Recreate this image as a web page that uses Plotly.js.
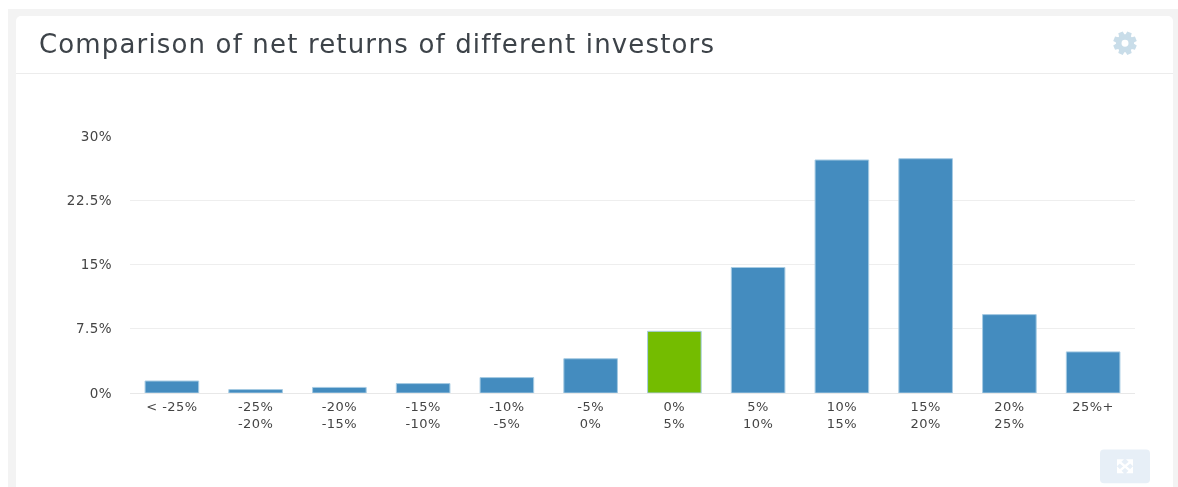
<!DOCTYPE html>
<html><head><meta charset="utf-8">
<script src="https://cdn.plot.ly/plotly-3.0.1.min.js"></script>
<style>
html,body{margin:0;padding:0;background:#fff;width:1178px;height:487px;overflow:hidden}
#panel{position:absolute;left:8px;top:9px;width:1172px;height:478px;background:#f3f3f3}
#card{position:absolute;left:16px;top:16px;width:1157px;height:471px;background:#fff;border-radius:5px 5px 0 0}
#rule{position:absolute;left:16px;top:73px;width:1157px;height:1px;background:#ececec}
#chart{position:absolute;left:0;top:0;width:1178px;height:487px;filter:blur(0.4px)}
#chart .gtitle{letter-spacing:1.15px}
#chart .xtick text,#chart .ytick text{letter-spacing:0.45px}
</style></head><body>
<div id="panel"></div><div id="card"></div><div id="rule"></div>
<div id="chart"></div>
<script>
const categories = ["< -25%","-25%<br>-20%","-20%<br>-15%","-15%<br>-10%","-10%<br>-5%","-5%<br>0%","0%<br>5%","5%<br>10%","10%<br>15%","15%<br>20%","20%<br>25%","25%+"];
const netReturns = [1.4,0.4,0.65,1.1,1.8,4.0,7.2,14.65,27.2,27.35,9.15,4.8];
const barColors = ["#448cbf","#448cbf","#448cbf","#448cbf","#448cbf","#448cbf","#74bc00","#448cbf","#448cbf","#448cbf","#448cbf","#448cbf"];
const yTicks = [0,7.5,15,22.5,30];
const yTickLabels = ["0%","7.5%","15%","22.5%","30%"];
const W=1178,H=487,L=130,R=1135,T=136,B=393.5;
const px=x=>(x-L)/(R-L), py=y=>(B-y)/(B-T);
const pt=(x,y)=>`${px(x)} ${py(y)}`;
// settings-cog outline, in page pixels
const gearPts=[];
for(let i=0;i<8;i++){
  const a=i*Math.PI/4+Math.PI/8;
  [[-0.32,9],[-0.2,12],[0.2,12],[0.32,9]].forEach(([d,r])=>gearPts.push(pt(1125+r*Math.cos(a+d),43+r*Math.sin(a+d))));
}
const gearPath='M '+gearPts.join(' L ')+' Z';
const tri=(x,y,sx,sy)=>({type:'path',xref:'paper',yref:'paper',line:{width:0},fillcolor:'#fff',
  path:`M ${pt(x,y)} L ${pt(x+sx*7,y)} L ${pt(x,y+sy*7)} Z`});
Plotly.newPlot('chart',[{
  type:'bar',x:categories,y:netReturns,width:0.64,
  marker:{color:barColors,line:{color:'#a6cbe3',width:1}},
  hoverinfo:'x+y'
}],{
  width:W,height:H,
  margin:{l:L,r:W-R,t:T,b:H-B,pad:0},
  paper_bgcolor:'rgba(0,0,0,0)',plot_bgcolor:'rgba(0,0,0,0)',
  showlegend:false,
  title:{text:'Comparison of net returns of different investors',x:39/W,xanchor:'left',y:1-44/H,yanchor:'middle',
    font:{family:'"DejaVu Sans"',size:26,color:'#3d4349'}},
  xaxis:{type:'category',categoryorder:'array',categoryarray:categories,range:[-0.5,11.5],
    showgrid:false,zeroline:false,showline:false,ticks:'',automargin:false,tickangle:0,ticklabelstandoff:4,
    tickfont:{family:'"DejaVu Sans"',size:13,color:'#444'}},
  yaxis:{range:[0,30],tickmode:'array',tickvals:yTicks,ticktext:yTickLabels,
    gridcolor:'#eeeeee',gridwidth:1,zeroline:true,zerolinecolor:'#e8e8e8',zerolinewidth:1,showline:false,ticks:'',automargin:false,
    ticklabelstandoff:17,
    tickfont:{family:'"DejaVu Sans"',size:13.5,color:'#444'}},
  shapes:[
    {type:'path',xref:'paper',yref:'paper',layer:'below',line:{width:0},fillcolor:'#e7eff7',
     path:`M ${pt(1104,450)} L ${pt(1146,450)} Q ${pt(1150,450)} ${pt(1150,454)} L ${pt(1150,480)} Q ${pt(1150,484)} ${pt(1146,484)} L ${pt(1104,484)} Q ${pt(1100,484)} ${pt(1100,480)} L ${pt(1100,454)} Q ${pt(1100,450)} ${pt(1104,450)} Z`},
    {type:'line',xref:'paper',yref:'paper',x0:px(1119),y0:py(462),x1:px(1131),y1:py(472),line:{color:'#fff',width:2.5}},
    {type:'line',xref:'paper',yref:'paper',x0:px(1119),y0:py(472),x1:px(1131),y1:py(462),line:{color:'#fff',width:2.5}},
    tri(1117,460,1,1),tri(1133,460,-1,1),tri(1117,474,1,-1),tri(1133,474,-1,-1),
    {type:'path',xref:'paper',yref:'paper',line:{width:0},fillcolor:'#c9dde9',path:gearPath},
    {type:'circle',xref:'paper',yref:'paper',x0:px(1121.5),x1:px(1128.5),y0:py(39.5),y1:py(46.5),line:{width:0},fillcolor:'#fff'}
  ]
},{displayModeBar:false});
</script>
</body></html>
